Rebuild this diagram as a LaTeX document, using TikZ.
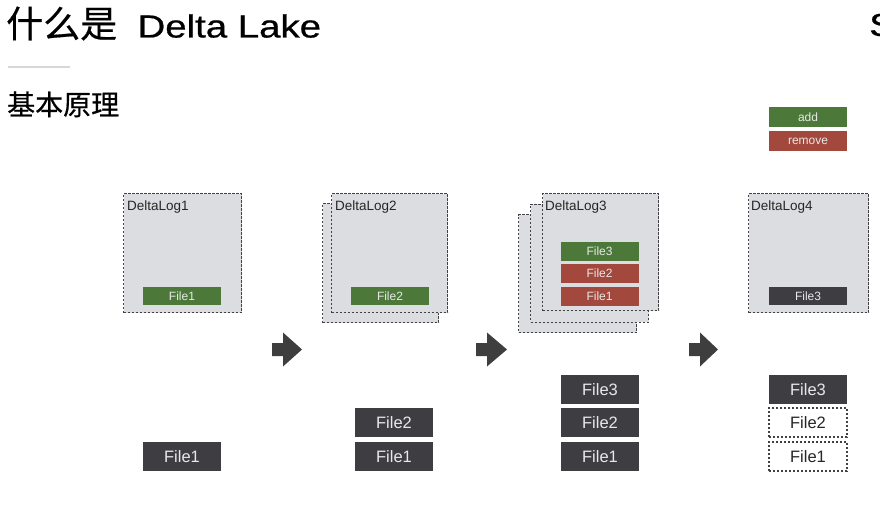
\documentclass[tikz,border=0pt]{standalone}
\usepackage{fontspec}
\setmainfont{Liberation Sans}
\newfontfamily\cjk[FakeBold=0.5]{Noto Sans CJK SC}
\newfontfamily\titlelatin[FakeBold=0.6]{Liberation Sans}
\definecolor{logfill}{RGB}{220,221,224}
\definecolor{dashgray}{RGB}{65,65,70}
\definecolor{addgreen}{RGB}{76,120,58}
\definecolor{remred}{RGB}{163,72,60}
\definecolor{darkfile}{RGB}{62,62,66}
\definecolor{arrowgray}{RGB}{62,62,62}
\definecolor{bartext}{RGB}{232,232,232}
\definecolor{rulegray}{RGB}{215,215,215}
\tikzset{
  logbox/.style={draw=dashgray, fill=logfill, line width=1.3pt, dash pattern=on 2.2pt off 1.8pt,
    minimum width=118pt, minimum height=119pt, anchor=north west, inner sep=0pt},
  loglabel/.style={anchor=base west, inner sep=0pt, font=\fontsize{13.5}{13.5}\selectfont, text=black!85},
  bar/.style={minimum width=78pt, minimum height=18.5pt, inner sep=0pt, text=bartext,
    font=\fontsize{12}{12}\selectfont},
  greenbar/.style={bar, fill=addgreen},
  redbar/.style={bar, fill=remred},
  darkbar/.style={bar, fill=darkfile},
  filebox/.style={minimum width=78pt, minimum height=29pt, inner sep=0pt, fill=darkfile, text=bartext,
    font=\fontsize{16.5}{16.5}\selectfont},
  ghostbox/.style={minimum width=78pt, minimum height=29pt, inner sep=0pt, fill=white, text=black!85,
    draw=dashgray, line width=1.3pt, dash pattern=on 2.2pt off 1.8pt, font=\fontsize{16.5}{16.5}\selectfont},
  stagearrow/.style={fill=arrowgray, draw=none}
}
\newcommand{\stagearrowat}[2]{% left x of body, tip x
  \fill[stagearrow] (#1,343) -- ({#1+11},343) -- ({#1+11},332.5) -- (#2,349.5) -- ({#1+11},366.5) -- ({#1+11},356) -- (#1,356) -- cycle;}
\begin{document}
\begin{tikzpicture}[x=1pt,y=-1pt]
\useasboundingbox (0,0) rectangle (880,505);
% titles
\node[anchor=base west, inner sep=0pt] (title) at (6,37.5) {\fontsize{37}{37}\selectfont\cjk 什么是\hspace{0.55em}\scalebox{1.2}[1]{\fontsize{32}{32}\selectfont\titlelatin Delta Lake}};
\draw[rulegray, line width=1.5pt] (8,67) -- (70,67);
\node[anchor=base west, inner sep=0pt] (subtitle) at (7,115) {\fontsize{28}{28}\selectfont\cjk 基本原理};
\node[anchor=base west, inner sep=0pt] (frag) at (869,36) {\fontsize{32}{32}\selectfont\scalebox{1.2}[1]{\titlelatin S}};

% legend
\node[greenbar, minimum height=20pt] (add) at (808,117) {add};
\node[redbar, minimum height=20pt] (remove) at (808,141) {remove};

% DeltaLog1
\node[logbox] (log1) at (123,193) {};
\node[loglabel] (lab1) at (127,211) {DeltaLog1};
\node[greenbar] (l1f1) at (182,296) {File1};

% DeltaLog2
\node[logbox, minimum width=116pt] (log2b) at (322,203) {};
\node[logbox, minimum width=116pt] (log2) at (331,193) {};
\node[loglabel] (lab2) at (335,211) {DeltaLog2};
\node[greenbar] (l2f2) at (390,296) {File2};

% DeltaLog3
\node[logbox, minimum width=118pt, minimum height=118pt] (log3c) at (518,214) {};
\node[logbox, minimum width=118pt, minimum height=118pt] (log3b) at (530,203.5) {};
\node[logbox, minimum width=116pt, minimum height=117pt] (log3) at (542,193) {};
\node[loglabel] (lab3) at (545,211) {DeltaLog3};
\node[greenbar] (l3f3) at (599.5,251.5) {File3};
\node[redbar] (l3f2) at (599.5,273.5) {File2};
\node[redbar] (l3f1) at (599.5,296.5) {File1};

% DeltaLog4
\node[logbox, minimum width=120pt] (log4) at (748,193) {};
\node[loglabel] (lab4) at (751,211) {DeltaLog4};
\node[darkbar] (l4f3) at (808,296) {File3};

% arrows
\stagearrowat{272}{302}
\stagearrowat{476}{507}
\stagearrowat{689}{718}

% data files
\node[filebox] (d1f1) at (182,456.5) {File1};

\node[filebox] (d2f2) at (394,422.5) {File2};
\node[filebox] (d2f1) at (394,456.5) {File1};

\node[filebox] (d3f3) at (600,389.5) {File3};
\node[filebox] (d3f2) at (600,422.5) {File2};
\node[filebox] (d3f1) at (600,456.5) {File1};

\node[filebox] (d4f3) at (808,389.5) {File3};
\node[ghostbox] (d4f2) at (808,422.5) {File2};
\node[ghostbox] (d4f1) at (808,456.5) {File1};
\end{tikzpicture}
\end{document}
